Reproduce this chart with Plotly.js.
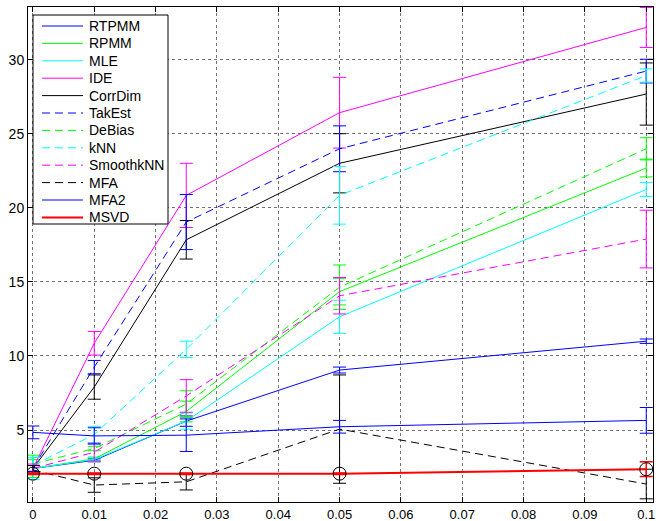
<!DOCTYPE html>
<html>
<head>
<meta charset="utf-8">
<script src="https://cdn.plot.ly/plotly-3.0.1.min.js"></script>
<style>html,body{margin:0;padding:0;background:#fff}#chart{width:656px;height:521px}</style>
</head>
<body>
<div id="chart"></div>
<script>
// noise levels (x)
const noise = [0, 0.01, 0.025, 0.05, 0.1];

// estimated intrinsic dimension per method (mean) and error (std)
const RTPMM     = [2.4, 2.95, 5.6, 9.05, 11.0];
const RTPMM_err = [0.2, 0.1, 0.35, 0.2, 0.15];
const RPMM      = [2.4, 3.05, 6.25, 14.35, 22.7];
const RPMM_err  = [0.6, 0.12, 0.7, 0.9, 0.6];
const MLE       = [2.4, 3.0, 5.6, 12.65, 21.25];
const MLE_err   = [0.75, 0.12, 0.55, 1.12, 0.48];
const IDE       = [2.4, 10.86, 20.85, 26.44, 32.2];
const IDE_err   = [0.2, 0.8, 2.17, 2.39, 1.35];
const CorrDim     = [2.4, 7.9, 17.85, 23.02, 27.7];
const CorrDim_err = [0.2, 0.82, 1.3, 2.0, 2.1];
const TakEst     = [2.4, 9.25, 19.05, 24.0, 29.25];
const TakEst_err = [0.2, 0.45, 1.86, 1.55, 0.8];
const DeBias     = [2.7, 3.75, 6.75, 14.65, 24.0];
const DeBias_err = [0.6, 0.15, 0.9, 1.5, 0.75];
const kNN       = [2.6, 4.7, 10.45, 20.86, 28.95];
const kNN_err   = [0.55, 0.55, 0.55, 1.95, 0.45];
const SmoothkNN     = [2.4, 3.5, 7.3, 14.07, 17.9];
const SmoothkNN_err = [0.3, 0.6, 1.1, 1.23, 1.95];
const MFA       = [2.3, 1.28, 1.5, 5.06, 1.35];
const MFA_err   = [0.3, 0.49, 0.55, 3.66, 1.0];
const MFA2      = [4.84, 4.6, 4.65, 5.22, 5.65];
const MFA2_err  = [0.43, 0.55, 1.1, 0.43, 0.87];
const MSVD      = [2.05, 2.05, 2.05, 2.05, 2.35];
const MSVD_err  = [0.05, 0.05, 0.05, 0.05, 0.5];

const seriesNames = ['RTPMM','RPMM','MLE','IDE','CorrDim','TakEst','DeBias','kNN','SmoothkNN','MFA','MFA2','MSVD'];
const seriesVals  = [RTPMM,RPMM,MLE,IDE,CorrDim,TakEst,DeBias,kNN,SmoothkNN,MFA,MFA2,MSVD];
const seriesErrs  = [RTPMM_err,RPMM_err,MLE_err,IDE_err,CorrDim_err,TakEst_err,DeBias_err,kNN_err,SmoothkNN_err,MFA_err,MFA2_err,MSVD_err];
const seriesColors = ['#0000ff','#00ff00','#00ffff','#ff00ff','#000000','#0000ff','#00ff00','#00ffff','#ff00ff','#000000','#0000ff','#ff0000'];
const seriesDash   = ['solid','solid','solid','solid','solid','8px,5px','8px,5px','8px,5px','8px,5px','8px,5px','solid','solid'];
const seriesWidth  = [1,1,1,1,1,1,1,1,1,1,1,2];

const traces = seriesNames.map((n,i)=>({
  type:'scatter', mode:'lines', name:n, x:noise, y:seriesVals[i], showlegend:false,
  line:{color:seriesColors[i], width:seriesWidth[i], dash:seriesDash[i]},
  error_y:{type:'data', array:seriesErrs[i], visible:true, color:seriesColors[i], thickness:seriesWidth[i]===2?1.5:1, width:6.5}
}));
traces.push({
  type:'scatter', mode:'markers', x:noise, y:MSVD, showlegend:false, hoverinfo:'skip',
  marker:{symbol:'circle-open', size:13, color:'#000', line:{width:1}}
});

// MATLAB-style legend box (layout decoration built from the series lists)
const W = 656, H = 521, mL = 28, mR = 3, mT = 7, mB = 19;
const pw = W - mL - mR, ph = H - mT - mB;
const px = v => (v - mL) / pw;
const py = v => 1 - (v - mT) / ph;
const legTop = 15, legBot = 224, legLeft = 33, legRight = 168, rowH = 17.4, row0 = 26;
const shapes = [{type:'rect', xref:'paper', yref:'paper', x0:px(legLeft), x1:px(legRight), y0:py(legBot), y1:py(legTop),
                 fillcolor:'#fff', line:{color:'#000', width:1}, layer:'above'}];
const annotations = [];
seriesNames.forEach((n,i)=>{
  const yy = py(row0 + i*rowH);
  shapes.push({type:'line', xref:'paper', yref:'paper', x0:px(42), x1:px(83), y0:yy, y1:yy, layer:'above',
               line:{color:seriesColors[i], width:seriesWidth[i], dash:seriesDash[i]}});
  annotations.push({xref:'paper', yref:'paper', x:px(87), y:yy, xanchor:'left', yanchor:'middle', text:n,
                    showarrow:false, font:{size:14, color:'#000'}});
});

const fontFam = '"Liberation Sans", Arial, Helvetica, sans-serif';
const layout = {
  width:W, height:H,
  margin:{l:mL, r:mR, t:mT, b:mB},
  paper_bgcolor:'#fff', plot_bgcolor:'#fff',
  font:{family:fontFam, size:14, color:'#000'},
  showlegend:false,
  shapes:shapes, annotations:annotations,
  xaxis:{range:[-0.0008, 0.1011], tickmode:'array', tickvals:[0,0.01,0.02,0.03,0.04,0.05,0.06,0.07,0.08,0.09,0.1],
         ticktext:['0','0.01','0.02','0.03','0.04','0.05','0.06','0.07','0.08','0.09','0.1'],
         ticks:'inside', ticklen:5, tickcolor:'#000', showline:true, linecolor:'#000', linewidth:1, mirror:'ticks',
         showgrid:true, gridcolor:'rgba(0,0,0,0.55)', griddash:'dot', gridwidth:1, zeroline:false,
         tickfont:{size:13}},
  yaxis:{range:[0.135, 33.58], tickmode:'array', tickvals:[5,10,15,20,25,30],
         ticks:'inside', ticklen:5, tickcolor:'#000', showline:true, linecolor:'#000', linewidth:1, mirror:'ticks',
         showgrid:true, gridcolor:'rgba(0,0,0,0.55)', griddash:'dot', gridwidth:1, zeroline:false,
         tickfont:{size:14}}
};
Plotly.newPlot('chart', traces, layout, {displayModeBar:false, staticPlot:true});
</script>
</body>
</html>
